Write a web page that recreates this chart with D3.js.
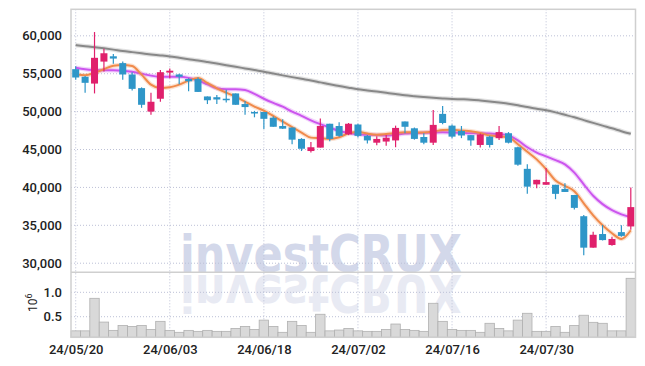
<!DOCTYPE html>
<html lang="en">
<head>
<meta charset="UTF-8">
<title>Candlestick chart</title>
<script src="https://d3js.org/d3.v7.min.js"></script>
<style>
  body { margin: 0; background: #fff; }
  svg { display: block; }
  .lbl { font-family: Roboto, "DejaVu Sans", sans-serif; font-size: 13px; font-weight: 500; fill: #222; }
</style>
</head>
<body>
<div id="chart"></div>
<script>
// OHLC (KRW)
const opens  = [55600,54600,53700,56600,57300,56400,54900,53100,50000,51700,
                55150,54900,54300,54300,52000,51900,51700,52400,51000,49950,
                49950,49200,48100,47900,46400,44800,45250,48400,48100,47000,
                48300,46800,45900,46050,46200,48700,47800,46650,45900,49700,
                48150,47450,46900,45600,46700,46500,47150,45300,42450,40400,
                40350,40350,39800,39000,36200,32050,33850,32400,34100,34850];
const highs  = [56000,54700,60500,58300,57600,56600,55200,53200,52500,55500,
                55700,55000,54400,54500,52000,52200,52900,52400,51400,50100,
                49950,49400,49000,47900,46500,46000,49100,48400,48600,48500,
                48400,46900,46750,46900,48150,48700,47900,47150,50200,50750,
                48300,48100,46900,47100,46800,48100,47300,45350,43050,41000,
                42550,40350,40550,39000,36350,34150,35050,33500,35000,40000];
const lows   = [54200,52500,52400,55300,56300,54200,52800,50500,49600,51300,
                54400,53600,52700,52600,51000,51000,51200,50900,49600,49250,
                47700,48000,47700,45700,44800,44600,45250,46100,46700,46900,
                46600,45800,45550,45500,45300,47150,46300,45700,45600,48350,
                46500,46500,45500,45250,45250,46250,45800,42850,39150,39900,
                40350,38450,39400,37100,31050,32050,33000,32300,33500,34400];
const closes = [54500,53800,57100,57700,57000,54900,53000,50900,51300,55200,
                55400,54600,54000,52600,51500,51600,51500,50900,50600,49750,
                49050,48000,47750,46300,45100,45300,48100,46400,46800,48400,
                46800,46200,46400,46550,47850,48000,46400,45900,48250,48500,
                46700,46850,46200,47000,45600,47300,45900,43000,40100,41000,
                40700,39150,39400,37300,32050,33750,33050,33200,33600,37400];

// moving averages as drawn (short, medium, long)
const maShort = [54930,54800,55100,55590,56060,56160,56020,54880,53560,53120,
                 53210,53560,54090,54440,53780,53080,52500,51970,51310,50660,
                 50130,49430,48680,47940,47230,46570,46490,46400,46620,47150,
                 47360,47100,46960,47050,47190,47280,47280,47230,47360,47580,
                 47620,47500,47410,47190,46850,46750,46600,45700,44700,43700,
                 42400,40900,40200,39500,37900,36300,35000,33950,33200,34350];
const maMid   = [55800,55600,55500,55450,55450,55400,55250,55000,54750,54600,
                 54600,54600,54450,54100,53600,53080,52950,52950,52860,52330,
                 51700,51150,50650,50000,49450,48850,48350,47900,47450,47200,
                 47000,46950,46900,46850,46950,47100,47150,47200,47250,47280,
                 47250,47200,47150,47150,47100,47050,46850,46200,45300,44600,
                 44100,43600,43050,41950,40400,38900,37800,37000,36450,36070];
const maLong  = [58780,58640,58500,58350,58180,58000,57850,57700,57550,57420,
                 57280,57100,56920,56750,56550,56340,56130,55920,55700,55480,
                 55270,55020,54780,54550,54330,54120,53860,53600,53380,53160,
                 52950,52800,52640,52480,52320,52150,52030,51920,51820,51740,
                 51670,51630,51580,51470,51340,51200,51050,50850,50600,50390,
                 50180,49900,49580,49250,48880,48510,48150,47800,47420,47070];

// volume, millions of shares
const volumes = [0.21,0.21,0.877,0.39,0.22,0.32,0.30,0.32,0.24,0.405,
                 0.22,0.18,0.22,0.20,0.22,0.20,0.20,0.26,0.30,0.24,
                 0.43,0.30,0.18,0.405,0.32,0.18,0.55,0.21,0.227,0.26,
                 0.21,0.20,0.20,0.24,0.35,0.24,0.22,0.20,0.775,0.405,
                 0.24,0.22,0.22,0.18,0.365,0.26,0.21,0.43,0.57,0.20,
                 0.20,0.30,0.18,0.32,0.53,0.385,0.365,0.21,0.21,1.287];

const dateTickIdx = [0, 10, 20, 30, 40, 50];
const dateTickLabels = ["24/05/20","24/06/03","24/06/18","24/07/02","24/07/16","24/07/30"];
const priceTicks = [30000, 35000, 40000, 45000, 50000, 55000, 60000];
const volTicks = [0.5, 1.0];

const W = 645, H = 366;
const plotL = 71, plotR = 635.5, plotT = 9.3, plotMid = 272.3, plotB = 337.3;
const upColor = "#e0206c", downColor = "#2e96c8";

const svg = d3.select("#chart").append("svg")
    .attr("width", W).attr("height", H);

const x = d3.scaleLinear().domain([-0.5, 59.5]).range([plotL, plotR]);
const y = d3.scaleLinear().domain([28800, 63500]).range([plotMid, plotT]);
const yv = d3.scaleLinear().domain([0.078, 1.41]).range([plotB, plotMid]);
const step = x(1) - x(0);

// watermark + its reflection
const wm = svg.append("g");
wm.append("text")
    .attr("x", 180).attr("y", plotMid)
    .attr("textLength", 282).attr("lengthAdjust", "spacingAndGlyphs")
    .style("font-family", "'DejaVu Sans', sans-serif")
    .style("font-weight", "bold").style("font-size", "52px")
    .style("fill", "#d3d8ea")
    .text("investCRUX");
wm.append("text")
    .attr("x", 180).attr("y", plotMid)
    .attr("transform", `translate(0,${2 * plotMid + 3}) scale(1,-1)`)
    .attr("textLength", 282).attr("lengthAdjust", "spacingAndGlyphs")
    .style("font-family", "'DejaVu Sans', sans-serif")
    .style("font-weight", "bold").style("font-size", "52px")
    .style("fill", "#e8eaf3")
    .text("investCRUX");

// grid
const grid = svg.append("g")
    .attr("stroke", "#bcc0d6").attr("stroke-dasharray", "1,2").attr("stroke-width", 1);
grid.selectAll(".hp").data(priceTicks).join("line")
    .attr("x1", plotL).attr("x2", plotR)
    .attr("y1", d => y(d)).attr("y2", d => y(d));
grid.selectAll(".hv").data(volTicks).join("line")
    .attr("x1", plotL).attr("x2", plotR)
    .attr("y1", d => yv(d)).attr("y2", d => yv(d));
grid.selectAll(".vx").data(dateTickIdx).join("line")
    .attr("x1", d => x(d)).attr("x2", d => x(d))
    .attr("y1", plotT).attr("y2", plotB);

// volume bars
svg.append("g").selectAll("rect").data(volumes).join("rect")
    .attr("x", (d, i) => x(i) - step / 2)
    .attr("width", step)
    .attr("y", d => yv(d))
    .attr("height", d => plotB - yv(d))
    .attr("fill", "#d9d9d9").attr("stroke", "#b0b0b0").attr("stroke-width", 0.8);

// moving averages
const line = d3.line().x((d, i) => x(i)).y(d => y(d)).curve(d3.curveMonotoneX);
[[maLong, "#888888"], [maMid, "#cc55ee"], [maShort, "#f08a4b"]].forEach(([vals, col]) => {
    svg.append("path").datum(vals)
        .attr("fill", "none").attr("stroke", col).attr("stroke-opacity", 0.25)
        .attr("stroke-width", 4.5).attr("d", line);
    svg.append("path").datum(vals)
        .attr("fill", "none").attr("stroke", col)
        .attr("stroke-width", 2).attr("d", line);
});

// candles
const candles = svg.append("g").selectAll("g").data(d3.range(opens.length)).join("g");
candles.append("line")
    .attr("x1", i => x(i)).attr("x2", i => x(i))
    .attr("y1", i => y(highs[i])).attr("y2", i => y(lows[i]))
    .attr("stroke", i => closes[i] >= opens[i] ? upColor : downColor)
    .attr("stroke-width", 1.2);
candles.append("rect")
    .attr("x", i => x(i) - 3.5).attr("width", 7)
    .attr("y", i => y(Math.max(opens[i], closes[i])))
    .attr("height", i => Math.max(1.5, Math.abs(y(opens[i]) - y(closes[i]))))
    .attr("fill", i => closes[i] >= opens[i] ? upColor : downColor);

// frame
svg.append("rect")
    .attr("x", plotL).attr("y", plotT)
    .attr("width", plotR - plotL).attr("height", plotB - plotT)
    .attr("fill", "none").attr("stroke", "#cfcfcf").attr("stroke-width", 1.5);
svg.append("line")
    .attr("x1", plotL).attr("x2", plotR).attr("y1", plotMid).attr("y2", plotMid)
    .attr("stroke", "#cfcfcf").attr("stroke-width", 1.5);

// axes
const yAxis = svg.append("g")
    .attr("transform", `translate(${plotL - 6},0)`)
    .call(d3.axisLeft(y).tickValues(priceTicks).tickFormat(d3.format(",")).tickSize(0));
const vAxis = svg.append("g")
    .attr("transform", `translate(${plotL - 6},0)`)
    .call(d3.axisLeft(yv).tickValues(volTicks).tickFormat(d3.format(".1f")).tickSize(0));
const xAxis = svg.append("g")
    .attr("transform", `translate(0,${plotB + 4})`)
    .call(d3.axisBottom(x).tickValues(dateTickIdx)
        .tickFormat((d, i) => dateTickLabels[i]).tickSize(0));
[yAxis, vAxis, xAxis].forEach(a => {
    a.select(".domain").remove();
    a.selectAll("text").attr("class", "lbl").attr("fill", null);
});

// unit label
const unit = svg.append("text").attr("class", "lbl")
    .attr("transform", "translate(37,312) rotate(-90)")
    .style("font-size", "12px").style("font-weight", "400");
unit.append("tspan").text("10");
unit.append("tspan").attr("dy", -5).style("font-size", "9px").text("6");
</script>
</body>
</html>
